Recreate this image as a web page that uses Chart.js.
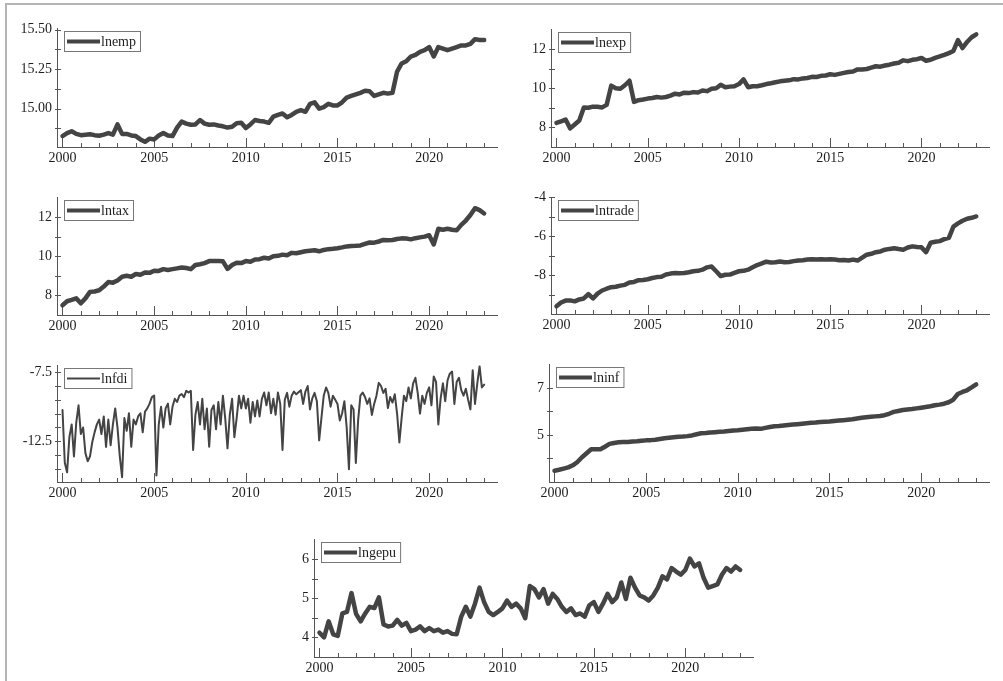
<!DOCTYPE html>
<html>
<head>
<meta charset="utf-8">
<script src="https://cdn.jsdelivr.net/npm/chart.js@4.4.1/dist/chart.umd.min.js"></script>
<style>
body{margin:0;background:#fff;width:1003px;height:681px;overflow:hidden;position:relative;}
#frame{position:absolute;left:5px;top:3px;width:1020px;height:720px;border-left:2px solid #b4b4b4;border-top:2px solid #b4b4b4;}
canvas{position:absolute;}
</style>
</head>
<body>
<div id="frame"></div>
<script>
// time axis: quarterly series start in 2000, lnfdi is read at 8 points a year
const firstYear = 2000;
const quarterStep = 0.25;
const fdiStep = 0.125;
const yearTicks = [2000,2001,2002,2003,2004,2005,2006,2007,2008,2009,2010,2011,2012,2013,2014,2015,2016,2017,2018,2019,2020,2021,2022,2023];

const lnemp = [14.826,14.845,14.857,14.840, 14.832,14.835,14.838,14.832, 14.828,14.835,14.845,14.835,
  14.900,14.840,14.840,14.830, 14.826,14.805,14.790,14.810, 14.805,14.830,14.846,14.830,
  14.826,14.880,14.918,14.905, 14.898,14.900,14.928,14.905, 14.898,14.900,14.893,14.888,
  14.880,14.885,14.908,14.910, 14.877,14.900,14.928,14.922, 14.918,14.910,14.949,14.960,
  14.969,14.945,14.960,14.980, 14.990,14.980,15.030,15.040, 15.000,15.010,15.030,15.020,
  15.020,15.040,15.070,15.080, 15.090,15.100,15.113,15.110, 15.080,15.090,15.100,15.095,
  15.100,15.235,15.286,15.300, 15.330,15.340,15.360,15.370, 15.390,15.330,15.390,15.380,
  15.370,15.380,15.390,15.400, 15.400,15.410,15.440,15.435, 15.435];

const lnexp = [8.23,8.31,8.40,7.95, 8.15,8.35,9.02,9.00, 9.06,9.05,9.02,9.15,
  10.13,10.00,9.97,10.15, 10.38,9.30,9.39,9.42, 9.47,9.50,9.55,9.52,
  9.55,9.62,9.72,9.68, 9.77,9.75,9.80,9.78, 9.88,9.85,9.97,10.00,
  10.17,10.05,10.08,10.10, 10.21,10.45,10.05,10.10, 10.10,10.15,10.21,10.25,
  10.30,10.35,10.38,10.40, 10.46,10.45,10.50,10.52, 10.58,10.57,10.63,10.65,
  10.71,10.68,10.73,10.78, 10.83,10.85,10.96,10.95, 10.98,11.05,11.12,11.10,
  11.16,11.20,11.26,11.30, 11.42,11.38,11.45,11.48, 11.54,11.40,11.45,11.55,
  11.62,11.70,11.79,11.90, 12.45,12.05,12.36,12.60, 12.75];

const lntax = [7.50,7.70,7.77,7.85, 7.60,7.85,8.18,8.20, 8.26,8.45,8.68,8.65,
  8.76,8.95,9.00,8.95, 9.09,9.05,9.17,9.15, 9.26,9.25,9.34,9.30,
  9.34,9.38,9.42,9.40, 9.34,9.55,9.59,9.65, 9.75,9.75,9.75,9.74,
  9.35,9.55,9.67,9.65, 9.75,9.72,9.83,9.85, 9.92,9.88,10.00,10.02,
  10.08,10.05,10.17,10.15, 10.20,10.25,10.28,10.30, 10.25,10.32,10.36,10.38,
  10.41,10.45,10.50,10.52, 10.53,10.55,10.63,10.70, 10.69,10.75,10.83,10.82,
  10.83,10.88,10.91,10.90, 10.86,10.92,10.96,11.00, 11.07,10.60,11.40,11.35,
  11.40,11.35,11.32,11.60, 11.82,12.10,12.45,12.35, 12.18];

const lntrade = [-9.60,-9.41,-9.31,-9.30, -9.35,-9.25,-9.20,-8.98, -9.20,-8.95,-8.79,-8.70,
  -8.62,-8.60,-8.54,-8.50, -8.38,-8.35,-8.26,-8.25, -8.21,-8.15,-8.10,-8.08,
  -7.97,-7.92,-7.89,-7.90, -7.89,-7.85,-7.80,-7.78, -7.72,-7.60,-7.56,-7.80,
  -8.05,-7.98,-7.97,-7.88, -7.80,-7.78,-7.72,-7.60, -7.48,-7.40,-7.31,-7.35,
  -7.34,-7.30,-7.34,-7.32, -7.28,-7.25,-7.23,-7.20, -7.18,-7.20,-7.18,-7.20,
  -7.18,-7.20,-7.23,-7.22, -7.25,-7.20,-7.25,-7.10, -6.95,-6.90,-6.82,-6.78,
  -6.69,-6.65,-6.62,-6.66, -6.69,-6.58,-6.52,-6.55, -6.57,-6.82,-6.33,-6.28,
  -6.25,-6.15,-6.08,-5.50, -5.34,-5.20,-5.10,-5.05, -4.98];

const lnfdi = [-10.24,-14.08,-14.78,-12.22,-11.29,-13.62,-11.17,-9.90,
  -11.99,-11.52,-13.38,-13.97,-13.62,-12.57,-11.87,-11.29,
  -10.94,-11.99,-10.71,-12.92,-10.94,-12.80,-11.29,-10.13,
  -11.52,-13.62,-15.13,-10.83,-11.76,-10.48,-12.92,-10.94,
  -11.29,-10.71,-10.48,-11.87,-10.36,-10.13,-9.78,-9.31,
  -9.20,-15.01,-11.29,-10.01,-11.52,-10.13,-9.78,-11.29,
  -10.01,-9.43,-9.66,-9.20,-9.08,-9.31,-8.85,-8.97,
  -8.85,-13.15,-10.59,-9.66,-11.29,-9.43,-11.64,-10.13,
  -12.92,-10.24,-9.90,-11.64,-9.66,-11.29,-9.20,-10.83,
  -13.03,-10.59,-9.43,-12.22,-10.83,-9.20,-10.13,-9.20,
  -10.13,-9.43,-11.17,-9.66,-10.71,-9.55,-10.71,-9.43,
  -8.97,-9.90,-8.97,-10.48,-9.43,-10.59,-8.97,-9.78,
  -13.15,-9.50,-9.00,-10.00,-9.20,-8.90,-9.10,-8.95,
  -8.80,-9.80,-8.90,-8.50,-10.20,-9.40,-9.00,-9.60,
  -12.45,-10.80,-9.20,-8.60,-9.00,-10.00,-9.20,-9.50,
  -9.80,-11.00,-10.50,-9.60,-11.50,-14.55,-9.90,-10.20,
  -14.10,-11.00,-9.20,-8.97,-9.30,-9.80,-9.40,-10.60,
  -9.80,-9.20,-8.27,-8.50,-9.00,-8.70,-10.10,-9.30,
  -9.70,-9.10,-10.50,-12.60,-10.80,-9.20,-9.60,-8.60,
  -9.40,-8.30,-7.90,-9.00,-10.50,-9.20,-9.80,-9.00,
  -8.60,-9.90,-7.80,-8.20,-11.30,-9.40,-8.30,-9.60,
  -8.10,-7.60,-7.45,-9.80,-8.20,-7.90,-8.80,-9.20,
  -8.70,-9.50,-10.20,-7.35,-9.80,-8.30,-7.05,-8.60,
  -8.40];

const lninf = [3.48,3.52,3.57,3.62, 3.71,3.85,4.05,4.22, 4.39,4.39,4.39,4.50,
  4.62,4.66,4.69,4.70, 4.70,4.72,4.73,4.75, 4.77,4.78,4.80,4.83,
  4.86,4.88,4.90,4.92, 4.93,4.95,4.98,5.03, 5.07,5.08,5.10,5.12,
  5.14,5.15,5.17,5.19, 5.20,5.22,5.24,5.26, 5.27,5.26,5.30,5.34,
  5.37,5.38,5.40,5.42, 5.44,5.46,5.48,5.50, 5.52,5.53,5.55,5.56,
  5.57,5.59,5.61,5.63, 5.65,5.67,5.70,5.73, 5.75,5.77,5.79,5.81,
  5.84,5.90,5.98,6.02, 6.06,6.08,6.10,6.13, 6.16,6.19,6.22,6.26,
  6.29,6.33,6.39,6.50, 6.74,6.83,6.90,7.02, 7.15];

const lngepu = [4.12,4.00,4.41,4.08, 4.04,4.61,4.65,5.13, 4.60,4.41,4.61,4.78,
  4.75,5.02,4.33,4.28, 4.30,4.45,4.30,4.37, 4.16,4.20,4.28,4.16,
  4.24,4.16,4.20,4.12, 4.16,4.09,4.08,4.53, 4.78,4.53,4.86,5.27,
  4.90,4.65,4.57,4.65, 4.74,4.94,4.78,4.86, 4.74,4.49,5.31,5.23,
  5.02,5.23,4.86,5.11, 4.98,4.78,4.65,4.74, 4.57,4.61,4.53,4.82,
  4.90,4.65,4.86,5.11, 4.90,5.02,5.40,4.98, 5.52,5.27,5.07,5.02,
  4.94,5.07,5.27,5.56, 5.48,5.77,5.68,5.60, 5.72,6.01,5.81,5.89,
  5.52,5.27,5.31,5.35, 5.60,5.77,5.68,5.81, 5.72];

// y tick positions and which of them carry a label
const lnempTicks = [14.875,15.0,15.125,15.25,15.375,15.5], lnempLabels = [15.0,15.25,15.5];
const lnexpTicks = [8,9,10,11,12], lnexpLabels = [8,10,12];
const lntaxTicks = [8,9,10,11,12], lntaxLabels = [8,10,12];
const lntradeTicks = [-9,-8,-7,-6,-5,-4], lntradeLabels = [-8,-6,-4];
const lnfdiTicks = [-14.5,-13.5,-12.5,-11.5,-10.5,-9.5,-8.5,-7.5], lnfdiLabels = [-12.5,-7.5];
const lninfTicks = [4,5,6,7], lninfLabels = [5,7];
const lngepuTicks = [4,4.5,5,5.5,6], lngepuLabels = [4,5,6];

const lineColor = '#444444';
const textColor = '#1e1e1e';
Chart.defaults.font.family = '"Liberation Serif","Times New Roman",serif';
Chart.defaults.font.size = 14;
Chart.defaults.color = textColor;

// panels: name, data, step, y range, ticks, decimals, line width, plot box [left, top, right, bottom]
const panels = [
  {name:'lnemp', data:lnemp, step:quarterStep, min:14.757, max:15.508, ticks:lnempTicks, labels:lnempLabels, dec:2, lw:4.5, box:[57,24,497,147]},
  {name:'lnexp', data:lnexp, step:quarterStep, min:7, max:13, ticks:lnexpTicks, labels:lnexpLabels, dec:0, lw:4.5, box:[551,25,989,147]},
  {name:'lntax', data:lntax, step:quarterStep, min:7, max:13, ticks:lntaxTicks, labels:lntaxLabels, dec:0, lw:4.5, box:[57,193,497,315]},
  {name:'lntrade', data:lntrade, step:quarterStep, min:-10, max:-4, ticks:lntradeTicks, labels:lntradeLabels, dec:0, lw:4.5, box:[551,193,989,314]},
  {name:'lnfdi', data:lnfdi, step:fdiStep, min:-15.48, max:-7.0, ticks:lnfdiTicks, labels:lnfdiLabels, dec:1, lw:2, box:[57,361,497,482]},
  {name:'lninf', data:lninf, step:quarterStep, min:3, max:8, ticks:lninfTicks, labels:lninfLabels, dec:0, lw:4.5, box:[549,360,989,482]},
  {name:'lngepu', data:lngepu, step:quarterStep, min:3.5, max:6.5, ticks:lngepuTicks, labels:lngepuLabels, dec:0, lw:4.5, box:[314,535,753,657]}
];

const padL = 55, padT = 9, padR = 6, padB = 26;

const tickMarks = {
  id:'tickMarks',
  beforeDatasetsDraw(chart){
    const {ctx, chartArea:a, scales:{x, y}} = chart;
    ctx.save();
    ctx.strokeStyle = '#555';
    ctx.lineWidth = 1;
    ctx.beginPath();
    x.ticks.forEach(t => {
      const px = Math.round(x.getPixelForValue(t.value)) + 0.5;
      const len = t.value % 5 === 0 ? 9 : 4;
      ctx.moveTo(px, a.bottom);
      ctx.lineTo(px, a.bottom - len);
    });
    y.ticks.forEach(t => {
      const py = Math.round(y.getPixelForValue(t.value)) + 0.5;
      ctx.moveTo(a.left - 2, py);
      ctx.lineTo(a.left + 4, py);
    });
    ctx.stroke();
    ctx.restore();
  }
};

const legendBox = {
  id:'legendBox',
  afterDraw(chart, args, opts){
    const {ctx, chartArea:a} = chart;
    ctx.save();
    ctx.font = '14px "Liberation Serif"';
    const tw = ctx.measureText(opts.text).width;
    const x = Math.round(a.left) + 7, y = Math.round(a.top) + 3;
    const w = 37 + tw + 4, h = 20;
    ctx.fillStyle = '#fff';
    ctx.fillRect(x, y, w, h);
    ctx.strokeStyle = '#777';
    ctx.lineWidth = 1;
    ctx.strokeRect(x + 0.5, y + 0.5, w, h);
    ctx.strokeStyle = lineColor;
    ctx.lineWidth = Math.min(opts.lw, 4);
    ctx.beginPath();
    ctx.moveTo(x + 3, y + h / 2 + 0.5);
    ctx.lineTo(x + 36, y + h / 2 + 0.5);
    ctx.stroke();
    ctx.fillStyle = textColor;
    ctx.textBaseline = 'middle';
    ctx.fillText(opts.text, x + 37, y + h / 2 + 1);
    ctx.restore();
  }
};
Chart.register(tickMarks, legendBox);

panels.forEach(p => {
  const [l, t, r, b] = p.box;
  const cv = document.createElement('canvas');
  cv.width = (r - l) + padL + padR;
  cv.height = (b - t) + padT + padB;
  cv.style.left = (l - padL) + 'px';
  cv.style.top = (t - padT) + 'px';
  document.body.appendChild(cv);
  const pts = p.data.map((v, i) => ({x: firstYear + i * p.step, y: v}));
  new Chart(cv, {
    type:'line',
    data:{datasets:[{data:pts, borderColor:lineColor, borderWidth:p.lw, pointRadius:0, tension:0, borderJoinStyle:'round', borderCapStyle:'round'}]},
    options:{
      responsive:false,
      animation:false,
      devicePixelRatio:1,
      layout:{padding:{top:padT, right:padR, left:0, bottom:0}},
      plugins:{legend:{display:false}, tooltip:{enabled:false}, legendBox:{text:p.name, lw:p.lw}},
      scales:{
        x:{
          type:'linear', min:1999.7, max:2023.7,
          afterBuildTicks:s => { s.ticks = yearTicks.map(v => ({value:v})); },
          afterFit:s => { s.height = padB; },
          ticks:{autoSkip:false, maxRotation:0, padding:3, callback:v => (v % 5 === 0 ? String(v) : '')},
          grid:{display:true, drawOnChartArea:false, drawTicks:false},
          border:{color:'#555', width:1}
        },
        y:{
          type:'linear', min:p.min, max:p.max,
          afterBuildTicks:s => { s.ticks = p.ticks.map(v => ({value:v})); },
          afterFit:s => { s.width = padL; },
          ticks:{autoSkip:false, padding:5, callback:v => (p.labels.includes(v) ? v.toFixed(p.dec) : '')},
          grid:{display:true, drawOnChartArea:false, drawTicks:false},
          border:{color:'#555', width:1}
        }
      }
    }
  });
});
</script>
</body>
</html>
